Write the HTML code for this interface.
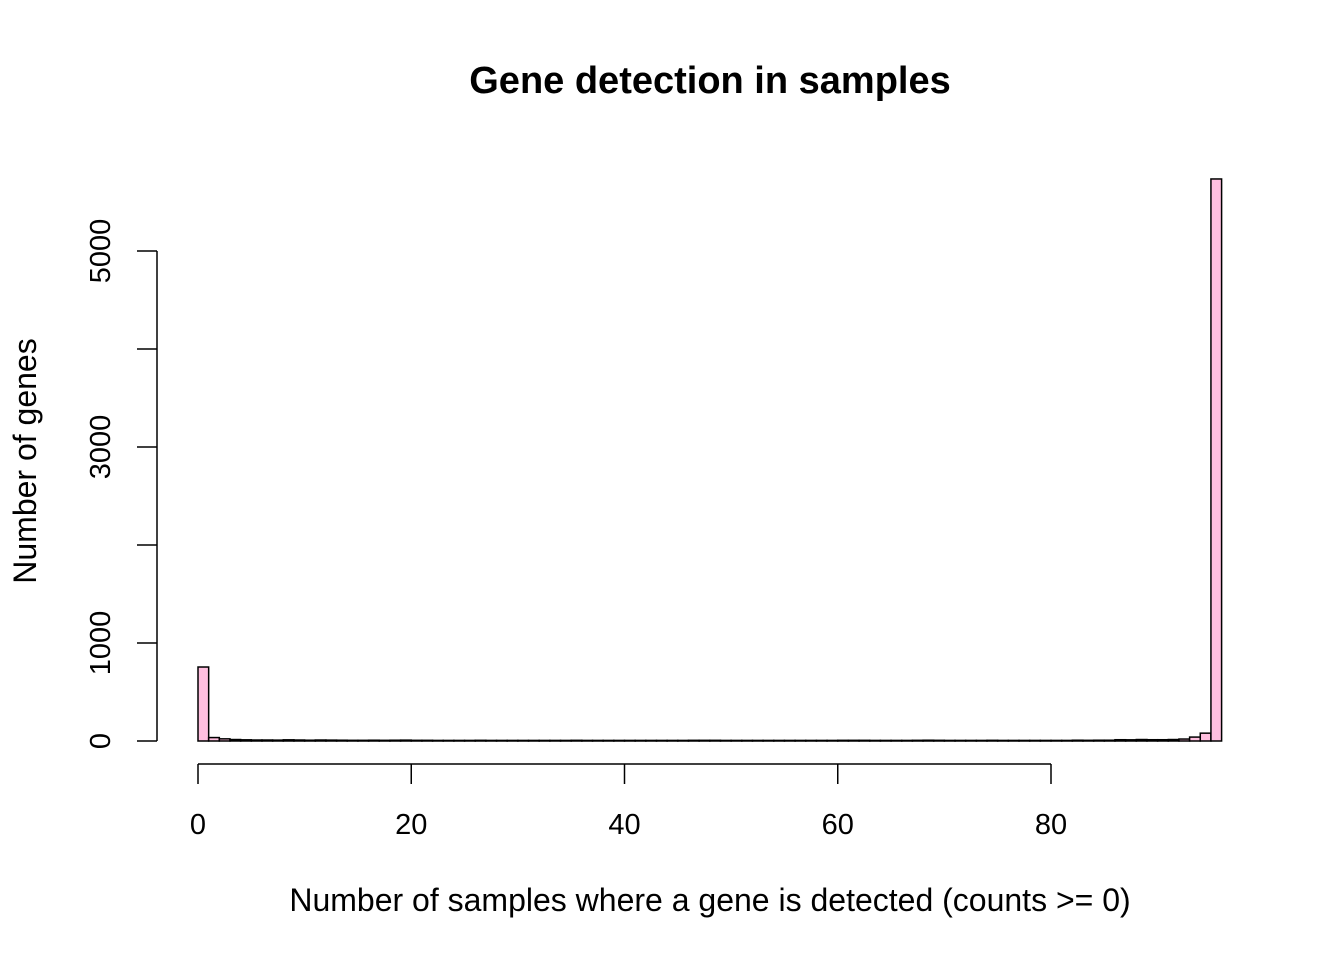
<!DOCTYPE html>
<html><head><meta charset="utf-8"><style>body{margin:0;background:#fff}svg{display:block}text{font-family:"Liberation Sans",sans-serif}</style></head>
<body>
<svg width="1344" height="960">
<text x="710" y="93" text-anchor="middle" font-size="38" font-weight="bold">Gene detection in samples</text>
<g id="bars"></g>
<g id="axes"></g>
<text x="710" y="911" text-anchor="middle" font-size="32">Number of samples where a gene is detected (counts &gt;= 0)</text>
<text transform="translate(36,461) rotate(-90)" text-anchor="middle" font-size="32">Number of genes</text>
</svg>
<script>
const counts = [755,35,22,15,12,10,10,9,12,10,8,10,9,8,7,7,8,7,8,9,7,7,6,6,6,6,7,6,6,6,6,6,6,6,6,7,6,6,6,6,6,6,6,6,6,6,7,7,7,6,6,6,6,6,6,6,6,6,6,6,7,7,7,6,6,6,6,7,8,7,6,6,6,6,7,6,6,6,6,6,6,6,8,7,8,8,13,12,15,13,13,15,20,40,80,5735];
const xTicks = [0,20,40,60,80];
const yTicks = [0,1000,2000,3000,4000,5000];
const yLabels = ["0","1000","","3000","","5000"];
const NS="http://www.w3.org/2000/svg";
const xs = v => 198 + v*(1051-198)/80;
const ys = v => 741 - v*(741-251)/5000;
const bars=document.getElementById('bars');
counts.forEach((c,i)=>{
  const r=document.createElementNS(NS,'rect');
  r.setAttribute('x',xs(i));r.setAttribute('width',xs(i+1)-xs(i));
  r.setAttribute('y',ys(c));r.setAttribute('height',ys(0)-ys(c));
  r.setAttribute('fill','#ffbfdf');r.setAttribute('stroke','#000');r.setAttribute('stroke-width','1.5');
  
  
  bars.appendChild(r);
});
const ax=document.getElementById('axes');
function line(x1,y1,x2,y2){const l=document.createElementNS(NS,'line');l.setAttribute('x1',x1);l.setAttribute('y1',y1);l.setAttribute('x2',x2);l.setAttribute('y2',y2);l.setAttribute('stroke','#000');l.setAttribute('stroke-width','1.5');ax.appendChild(l);return l;}
function txt(s,x,y,rot){const t=document.createElementNS(NS,'text');t.textContent=s;t.setAttribute('font-size','29');t.setAttribute('text-anchor','middle');
 if(rot){t.setAttribute('transform',`translate(${x},${y}) rotate(-90)`);}else{t.setAttribute('x',x);t.setAttribute('y',y);}ax.appendChild(t);return t;}
const xl=line(xs(0),764,xs(80),764);

xTicks.forEach(v=>{line(xs(v),764,xs(v),784);const t=txt(String(v),xs(v),834,false);
 
 });
const yl=line(157,ys(0),157,ys(5000));

yTicks.forEach((v,i)=>{line(137,ys(v),157,ys(v));if(yLabels[i]){const t=txt(yLabels[i],110,ys(v),true);
 
 }});
</script>
</body></html>
